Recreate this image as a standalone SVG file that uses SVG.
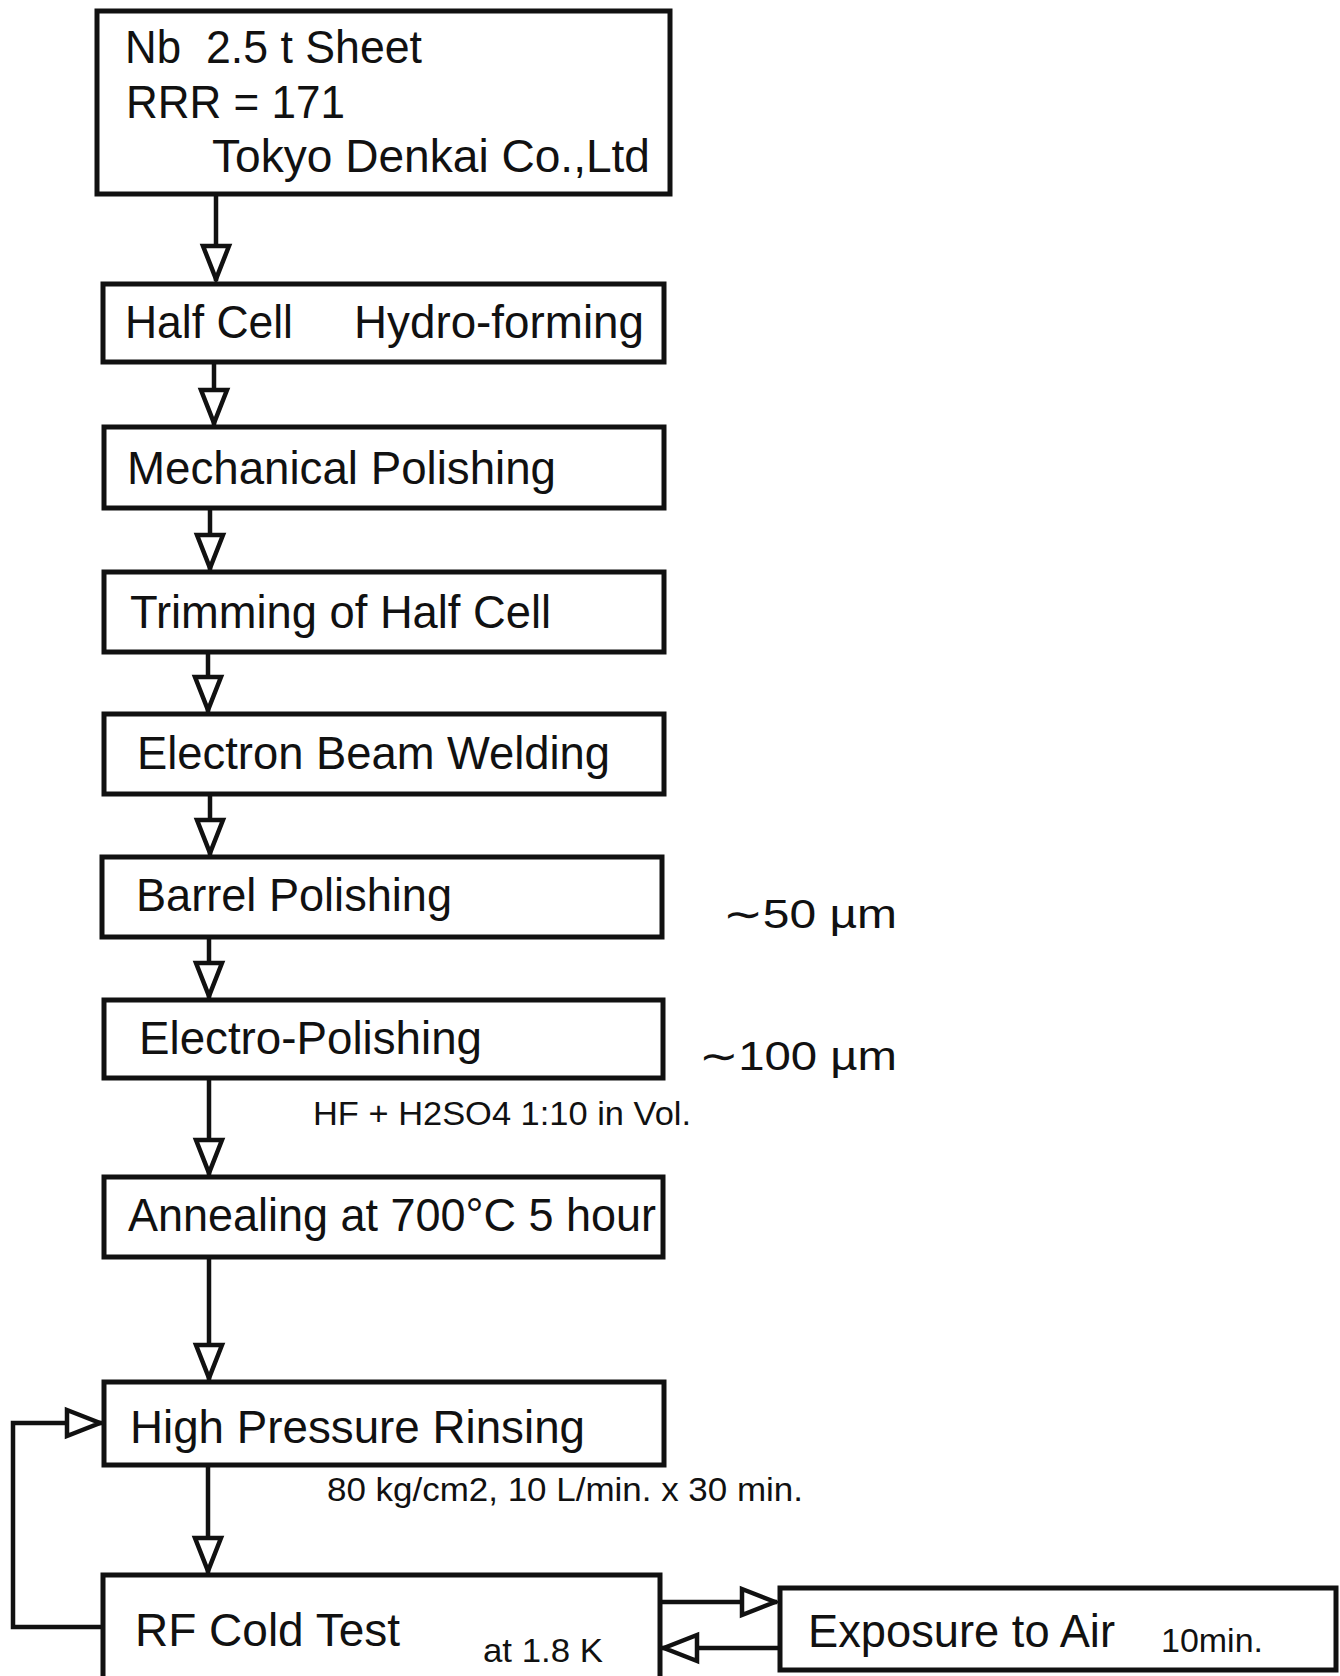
<svg xmlns="http://www.w3.org/2000/svg" width="1340" height="1676" viewBox="0 0 1340 1676">
<style>
.box{fill:#fff;stroke:#111;stroke-width:5}
.lbl{font-family:"Liberation Sans",Arial,Helvetica,sans-serif;font-size:47px;fill:#111}
.sm{font-family:"Liberation Sans",Arial,Helvetica,sans-serif;font-size:33px;fill:#111}
.um{font-family:"Liberation Sans",Arial,Helvetica,sans-serif;font-size:41px;fill:#111}
.con{fill:none;stroke:#111;stroke-width:4.5;marker-end:url(#ah)}
</style>
<defs>
<marker id="ah" markerUnits="userSpaceOnUse" markerWidth="50" markerHeight="40" refX="38" refY="14" orient="auto" overflow="visible">
<path d="M3,1 L36,14 L3,27 Z" fill="#fff" stroke="#111" stroke-width="4.5" stroke-linejoin="miter"/>
</marker>
</defs>
<rect width="1340" height="1676" fill="#fff"/>

<g id="connectors">
<path class="con" d="M216,194 V281"/>
<path class="con" d="M214,362 V425"/>
<path class="con" d="M210,508 V570"/>
<path class="con" d="M208,652 V712"/>
<path class="con" d="M210,794 V855"/>
<path class="con" d="M209,937 V998"/>
<path class="con" d="M209,1078 V1175"/>
<path class="con" d="M209,1257 V1380"/>
<path class="con" d="M208,1465 V1573"/>
<path class="con" d="M103,1627 H13 V1423 H102"/>
<path class="con" d="M660,1602 H777"/>
<path class="con" d="M780,1648 H662"/>
</g>

<g id="n1">
<rect class="box" x="97" y="11" width="573" height="183"/>
<text class="lbl" x="125" y="63" textLength="56" lengthAdjust="spacingAndGlyphs">Nb</text>
<text class="lbl" x="206" y="63" textLength="216" lengthAdjust="spacingAndGlyphs">2.5 t Sheet</text>
<text class="lbl" x="126" y="118" textLength="219" lengthAdjust="spacingAndGlyphs">RRR = 171</text>
<text class="lbl" x="212" y="172" textLength="438" lengthAdjust="spacingAndGlyphs">Tokyo Denkai Co.,Ltd</text>
</g>
<g id="n2">
<rect class="box" x="103" y="284" width="561" height="78"/>
<text class="lbl" x="125" y="338" textLength="168" lengthAdjust="spacingAndGlyphs">Half Cell</text>
<text class="lbl" x="354" y="338" textLength="290" lengthAdjust="spacingAndGlyphs">Hydro-forming</text>
</g>
<g id="n3">
<rect class="box" x="104" y="427" width="560" height="81"/>
<text class="lbl" x="127" y="484" textLength="429" lengthAdjust="spacingAndGlyphs">Mechanical Polishing</text>
</g>
<g id="n4">
<rect class="box" x="104" y="572" width="560" height="80"/>
<text class="lbl" x="130" y="628" textLength="421" lengthAdjust="spacingAndGlyphs">Trimming of Half Cell</text>
</g>
<g id="n5">
<rect class="box" x="104" y="714" width="560" height="80"/>
<text class="lbl" x="137" y="769" textLength="473" lengthAdjust="spacingAndGlyphs">Electron Beam Welding</text>
</g>
<g id="n6">
<rect class="box" x="102" y="857" width="560" height="80"/>
<text class="lbl" x="136" y="911" textLength="316" lengthAdjust="spacingAndGlyphs">Barrel Polishing</text>
<text class="um" x="723" y="928" textLength="174" lengthAdjust="spacingAndGlyphs">∼50 µm</text>
</g>
<g id="n7">
<rect class="box" x="104" y="1000" width="559" height="78"/>
<text class="lbl" x="139" y="1054" textLength="343" lengthAdjust="spacingAndGlyphs">Electro-Polishing</text>
<text class="um" x="699" y="1070" textLength="198" lengthAdjust="spacingAndGlyphs">∼100 µm</text>
<text class="sm" x="313" y="1125" textLength="378" lengthAdjust="spacingAndGlyphs">HF + H2SO4 1:10 in Vol.</text>
</g>
<g id="n8">
<rect class="box" x="104" y="1177" width="559" height="80"/>
<text class="lbl" x="128" y="1231" textLength="528" lengthAdjust="spacingAndGlyphs">Annealing at 700°C 5 hour</text>
</g>
<g id="n9">
<rect class="box" x="104" y="1382" width="560" height="83"/>
<text class="lbl" x="130" y="1443" textLength="455" lengthAdjust="spacingAndGlyphs">High Pressure Rinsing</text>
<text class="sm" x="327" y="1501" textLength="476" lengthAdjust="spacingAndGlyphs">80 kg/cm2, 10 L/min. x 30 min.</text>
</g>
<g id="n10">
<rect class="box" x="103" y="1575" width="557" height="130"/>
<text class="lbl" x="135" y="1646" textLength="265" lengthAdjust="spacingAndGlyphs">RF Cold Test</text>
<text class="sm" x="483" y="1662" textLength="120" lengthAdjust="spacingAndGlyphs">at 1.8 K</text>
</g>
<g id="n11">
<rect class="box" x="780" y="1588" width="556" height="82"/>
<text class="lbl" x="808" y="1647" textLength="307" lengthAdjust="spacingAndGlyphs">Exposure to Air</text>
<text class="sm" x="1161" y="1652" textLength="102" lengthAdjust="spacingAndGlyphs">10min.</text>
</g>
</svg>
